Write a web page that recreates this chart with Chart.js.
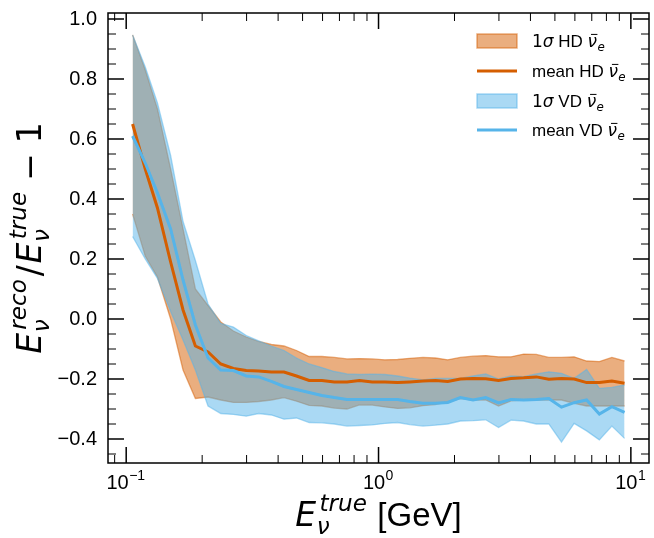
<!DOCTYPE html>
<html>
<head>
<meta charset="utf-8">
<script src="https://cdn.jsdelivr.net/npm/chart.js@4.4.0/dist/chart.umd.min.js"></script>
<style>
  html, body { margin: 0; padding: 0; background: #fff; }
  #wrap { width: 654px; height: 538px; }
</style>
</head>
<body>
<div id="wrap"><canvas id="chart"></canvas></div>
<script>
// Bin centres (GeV)
const energies = [0.106, 0.119, 0.133, 0.150, 0.168, 0.188, 0.211, 0.237, 0.266, 0.299,
  0.335, 0.376, 0.422, 0.473, 0.531, 0.596, 0.668, 0.750, 0.841, 0.944,
  1.06, 1.19, 1.33, 1.50, 1.68, 1.88, 2.11, 2.37, 2.66, 2.99,
  3.35, 3.76, 4.22, 4.73, 5.31, 5.96, 6.68, 7.50, 8.41, 9.44];

// HD nu_e bar
const hdMean = [0.65, 0.50, 0.37, 0.19, 0.03, -0.09, -0.11, -0.15, -0.165, -0.172,
  -0.173, -0.177, -0.177, -0.19, -0.205, -0.205, -0.21, -0.21, -0.205, -0.21,
  -0.21, -0.212, -0.21, -0.207, -0.205, -0.208, -0.20, -0.198, -0.199, -0.205,
  -0.198, -0.196, -0.193, -0.201, -0.198, -0.20, -0.212, -0.212, -0.207, -0.214];
const hdUpper = [0.947, 0.83, 0.70, 0.50, 0.30, 0.10, 0.045, -0.01, -0.04, -0.06,
  -0.075, -0.085, -0.09, -0.105, -0.125, -0.125, -0.128, -0.133, -0.132, -0.133,
  -0.136, -0.135, -0.131, -0.128, -0.13, -0.136, -0.128, -0.124, -0.122, -0.126,
  -0.126, -0.117, -0.118, -0.128, -0.128, -0.126, -0.14, -0.142, -0.128, -0.14];
const hdLower = [0.35, 0.21, 0.14, 0.0, -0.17, -0.265, -0.26, -0.27, -0.278, -0.278,
  -0.275, -0.27, -0.262, -0.274, -0.288, -0.29, -0.297, -0.30, -0.286, -0.287,
  -0.293, -0.298, -0.296, -0.289, -0.285, -0.276, -0.265, -0.27, -0.27, -0.29,
  -0.273, -0.27, -0.27, -0.27, -0.27, -0.281, -0.29, -0.29, -0.29, -0.29];

// VD nu_e bar
const vdMean = [0.61, 0.52, 0.42, 0.30, 0.13, -0.02, -0.13, -0.17, -0.172, -0.19,
  -0.193, -0.208, -0.225, -0.235, -0.245, -0.255, -0.262, -0.268, -0.268, -0.268,
  -0.268, -0.268, -0.275, -0.281, -0.281, -0.278, -0.262, -0.27, -0.262, -0.28,
  -0.268, -0.27, -0.268, -0.265, -0.294, -0.279, -0.27, -0.317, -0.292, -0.311];
const vdUpper = [0.947, 0.84, 0.72, 0.545, 0.325, 0.195, 0.05, -0.015, -0.027, -0.055,
  -0.073, -0.09, -0.105, -0.13, -0.15, -0.162, -0.175, -0.183, -0.185, -0.184,
  -0.185, -0.19, -0.197, -0.203, -0.198, -0.198, -0.198, -0.19, -0.183, -0.20,
  -0.19, -0.192, -0.183, -0.176, -0.181, -0.198, -0.168, -0.231, -0.228, -0.22];
const vdLower = [0.275, 0.20, 0.135, 0.025, -0.07, -0.17, -0.29, -0.315, -0.318, -0.324,
  -0.315, -0.32, -0.334, -0.33, -0.345, -0.346, -0.35, -0.357, -0.355, -0.353,
  -0.348, -0.345, -0.352, -0.357, -0.354, -0.35, -0.34, -0.339, -0.336, -0.362,
  -0.337, -0.34, -0.35, -0.35, -0.41, -0.348, -0.373, -0.403, -0.357, -0.398];

// Axis ticks
const xMajorTicks = [0.1, 1, 10];
const xMajorExp = ['\u22121', '0', '1'];
const xMinorTicks = [0.09, 0.2, 0.3, 0.4, 0.5, 0.6, 0.7, 0.8, 0.9, 2, 3, 4, 5, 6, 7, 8, 9];
const yMajorTicks = [-0.4, -0.2, 0.0, 0.2, 0.4, 0.6, 0.8, 1.0];

const HD_LINE = '#d55e00';
const HD_FILL = 'rgba(213, 94, 0, 0.5)';
const VD_LINE = '#56b4e9';
const VD_FILL = 'rgba(86, 180, 233, 0.5)';
const TEXT_FONT = '"Liberation Sans", Arial, sans-serif';
const MATH_FONT = '"DejaVu Sans", sans-serif';

function pts(ys) {
  return energies.map((e, i) => ({ x: e, y: ys[i] }));
}

// draw text made of pieces: {t, it, m, bar} runs, {sub, sup, up} scripts
// m = math font (DejaVu), scripts are math unless up is set
function drawRich(ctx, parts, x, y, size, align) {
  const font = (it, m, s) => (it ? 'italic ' : '') + s + 'px ' + (m ? MATH_FONT : TEXT_FONT);
  const widths = parts.map(p => {
    if (p.t !== undefined) {
      ctx.font = font(p.it, p.m, size);
      return ctx.measureText(p.t).width + (p.pad || 0) * size * 2;
    }
    ctx.font = font(!p.up, !p.up, size * 0.7);
    let w = 0;
    if (p.sub) w = Math.max(w, ctx.measureText(p.sub).width);
    if (p.sup) w = Math.max(w, ctx.measureText(p.sup).width + (p.up ? 0 : size * 0.08));
    return w + size * 0.06;
  });
  const total = widths.reduce((s, v) => s + v, 0);
  let cx = align === 'center' ? x - total / 2 : (align === 'right' ? x - total : x);
  ctx.textAlign = 'left';
  ctx.textBaseline = 'alphabetic';
  parts.forEach((p, i) => {
    if (p.t !== undefined) {
      ctx.font = font(p.it, p.m, size);
      ctx.fillText(p.t, cx + (p.pad || 0) * size, y);
      if (p.bar) {
        ctx.lineWidth = 1;
        ctx.beginPath();
        ctx.moveTo(cx + size * 0.2, y - size * 0.74);
        ctx.lineTo(cx + widths[i] + size * 0.02, y - size * 0.74);
        ctx.stroke();
      }
    } else {
      ctx.font = font(!p.up, !p.up, size * 0.7);
      if (p.sub) ctx.fillText(p.sub, cx + size * 0.02, y + size * 0.24);
      if (p.sup) ctx.fillText(p.sup, cx + size * (p.up ? 0.02 : 0.1), y - size * 0.44);
    }
    cx += widths[i];
  });
}

// frame, inward ticks, tick labels, axis titles and legend
const decorations = {
  id: 'decorations',
  afterDraw(chart) {
    const ctx = chart.ctx;
    const a = chart.chartArea;
    const xs = chart.scales.x;
    const ys = chart.scales.y;
    ctx.save();
    ctx.strokeStyle = '#000';
    ctx.fillStyle = '#000';

    const seg = (x1, y1, x2, y2) => {
      ctx.beginPath(); ctx.moveTo(x1, y1); ctx.lineTo(x2, y2); ctx.stroke();
    };
    const xTick = (v, len) => {
      const p = xs.getPixelForValue(v);
      seg(p, a.bottom, p, a.bottom - len);
      seg(p, a.top, p, a.top + len);
    };
    const yTick = (v, len) => {
      const p = ys.getPixelForValue(v);
      seg(a.left, p, a.left + len, p);
      seg(a.right, p, a.right - len, p);
    };

    ctx.lineWidth = 1;
    xMinorTicks.forEach(v => xTick(v, 8));
    for (let k = -9; k <= 20; k++) {
      if (k % 4 !== 0) yTick(k * 0.05, 8);
    }
    ctx.lineWidth = 1.5;
    xMajorTicks.forEach(v => xTick(v, 16));
    yMajorTicks.forEach(v => yTick(v, 16));
    ctx.strokeRect(a.left, a.top, a.right - a.left, a.bottom - a.top);

    // tick labels
    ctx.font = '20px ' + TEXT_FONT;
    ctx.textAlign = 'right';
    ctx.textBaseline = 'middle';
    yMajorTicks.forEach(v => {
      ctx.fillText(v.toFixed(1).replace('-', '\u2212'), a.left - 11, ys.getPixelForValue(v));
    });
    xMajorTicks.forEach((v, i) => {
      drawRich(ctx, [{ t: '10' }, { sub: '', sup: xMajorExp[i], up: true }],
        xs.getPixelForValue(v), a.bottom + 26, 20, 'center');
    });

    // axis titles
    drawRich(ctx, [{ t: 'E', it: true, m: true }, { sub: '\u03bd', sup: 'true' }, { t: ' [GeV]' }],
      (a.left + a.right) / 2, 526, 33, 'center');
    ctx.save();
    ctx.translate(41, (a.top + a.bottom) / 2);
    ctx.rotate(-Math.PI / 2);
    drawRich(ctx, [{ t: 'E', it: true, m: true }, { sub: '\u03bd', sup: 'reco' },
      { t: '/', m: true, pad: 0.05 }, { t: 'E', it: true, m: true },
      { sub: '\u03bd', sup: 'true' }, { t: '\u2212', m: true, pad: 0.3 }, { t: '1', m: true }],
      0, 0, 33, 'center');
    ctx.restore();

    // legend
    const rows = [
      { kind: 'patch', fill: HD_FILL, pre: ['1\u03c3', 'HD'] },
      { kind: 'line', color: HD_LINE, pre: ['mean', 'HD'] },
      { kind: 'patch', fill: VD_FILL, pre: ['1\u03c3', 'VD'] },
      { kind: 'line', color: VD_LINE, pre: ['mean', 'VD'] }
    ];
    const rowY = [41, 71, 101, 130];
    rows.forEach((r, i) => {
      const cy = rowY[i];
      if (r.kind === 'patch') {
        ctx.fillStyle = r.fill;
        ctx.fillRect(477, cy - 7, 40, 14);
        ctx.strokeStyle = r.fill;
        ctx.lineWidth = 1.5;
        ctx.strokeRect(477, cy - 7, 40, 14);
      } else {
        ctx.strokeStyle = r.color;
        ctx.lineWidth = 3;
        seg(477, cy, 517, cy);
      }
      ctx.fillStyle = '#000';
      ctx.strokeStyle = '#000';
      const parts = r.pre[0] === 'mean'
        ? [{ t: 'mean ' + r.pre[1] + ' ' }]
        : [{ t: '1', m: true }, { t: '\u03c3', it: true, m: true }, { t: ' ' + r.pre[1] + ' ' }];
      parts.push({ t: '\u03bd', it: true, m: true, bar: true }, { sub: 'e' });
      drawRich(ctx, parts, 532, cy + 6, 17, 'left');
    });
    ctx.restore();
  }
};

new Chart(document.getElementById('chart'), {
  type: 'line',
  data: {
    datasets: [
      { label: 'HD lower', data: pts(hdLower), borderColor: HD_FILL, borderWidth: 1.3,
        pointRadius: 0, fill: false, order: 3 },
      { label: '1\u03c3 HD', data: pts(hdUpper), borderColor: HD_FILL, borderWidth: 1.3,
        backgroundColor: HD_FILL, pointRadius: 0, fill: '-1', order: 3 },
      { label: 'VD lower', data: pts(vdLower), borderColor: VD_FILL, borderWidth: 1.3,
        pointRadius: 0, fill: false, order: 2 },
      { label: '1\u03c3 VD', data: pts(vdUpper), borderColor: VD_FILL, borderWidth: 1.3,
        backgroundColor: VD_FILL, pointRadius: 0, fill: '-1', order: 2 },
      { label: 'mean HD', data: pts(hdMean), borderColor: HD_LINE, borderWidth: 3,
        pointRadius: 0, fill: false, order: 1 },
      { label: 'mean VD', data: pts(vdMean), borderColor: VD_LINE, borderWidth: 3,
        pointRadius: 0, fill: false, order: 0 }
    ]
  },
  options: {
    responsive: true,
    maintainAspectRatio: false,
    animation: false,
    layout: { padding: { left: 108, right: 5, top: 13, bottom: 75 } },
    elements: { line: { tension: 0 } },
    scales: {
      x: { type: 'logarithmic', min: 0.0847, max: 11.8, display: false },
      y: { type: 'linear', min: -0.48, max: 1.02, display: false }
    },
    plugins: {
      legend: { display: false },
      tooltip: { enabled: false }
    }
  },
  plugins: [decorations]
});
</script>
</body>
</html>
